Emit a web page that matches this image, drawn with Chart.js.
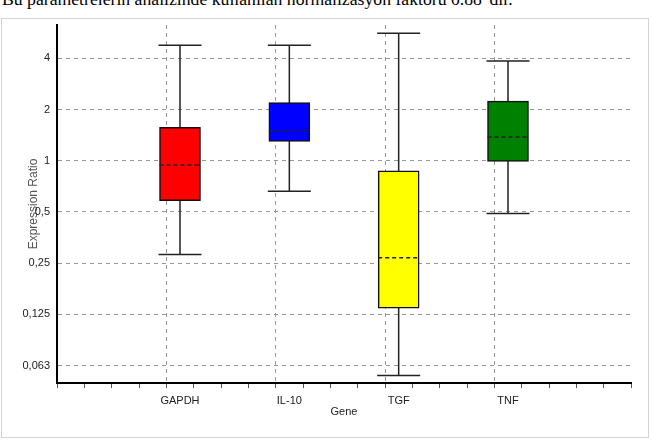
<!DOCTYPE html>
<html>
<head>
<meta charset="utf-8">
<script src="https://cdn.jsdelivr.net/npm/chart.js@4"></script>
<style>
  body { margin: 0; background: #fff; }
  #wrap { position: relative; width: 652px; height: 440px; overflow: hidden; }
  #note { position: absolute; left: 2px; top: -11px; font: 17.7px "Liberation Serif", serif; color: #000; white-space: nowrap; }
  #frame { position: absolute; left: 1px; top: 18px; width: 646px; height: 418px; border: 1px solid #d4d4d4; }
  canvas { position: absolute; left: 0; top: 0; }
</style>
</head>
<body>
<div id="wrap">
  <div id="note">Bu parametrelerin analizinde kullanılan normalizasyon faktörü 0.88 'dir.</div>
  <div id="frame"></div>
  <canvas id="chart" width="652" height="440"></canvas>
</div>
<script>
// values
const genes = ['GAPDH', 'IL-10', 'TGF', 'TNF'];
const whiskerMin = [0.281, 0.663, 0.0546, 0.49];
const boxLow = [0.582, 1.30, 0.136, 0.99];
const medians = [0.943, 1.50, 0.269, 1.38];
const boxHigh = [1.57, 2.20, 0.873, 2.24];
const whiskerMax = [4.77, 4.77, 5.61, 3.86];
const boxColors = ['#ff0000', '#0000ff', '#ffff00', '#008000'];

const yTickValues = [0.0625, 0.125, 0.25, 0.5, 1, 2, 4];
const yTickLabels = ['0,063', '0,125', '0,25', '0,5', '1', '2', '4'];
const yMin = 0.0494;
const yMax = 6.28;

Chart.defaults.font.family = '"Liberation Sans", Arial, sans-serif';
Chart.defaults.font.size = 11;
Chart.defaults.color = '#222';

function isGeneTick(v) {
    return Number.isInteger(v) && v >= 1 && v <= genes.length;
}

// whiskers + caps behind the boxes, dashed medians on top
const boxExtras = {
    id: 'boxExtras',
    beforeDatasetsDraw(chart) {
        const ctx = chart.ctx;
        const y = chart.scales.y;
        const bars = chart.getDatasetMeta(0).data;
        ctx.save();
        ctx.strokeStyle = '#222';
        ctx.lineWidth = 1.5;
        bars.forEach((bar, i) => {
            const top = y.getPixelForValue(whiskerMax[i]);
            const bot = y.getPixelForValue(whiskerMin[i]);
            const half = bar.width / 2 + 1;
            ctx.beginPath();
            ctx.moveTo(bar.x, top);
            ctx.lineTo(bar.x, bot);
            ctx.moveTo(bar.x - half, top);
            ctx.lineTo(bar.x + half, top);
            ctx.moveTo(bar.x - half, bot);
            ctx.lineTo(bar.x + half, bot);
            ctx.stroke();
        });
        ctx.restore();
    },
    afterDatasetsDraw(chart) {
        const ctx = chart.ctx;
        const y = chart.scales.y;
        const bars = chart.getDatasetMeta(0).data;
        ctx.save();
        ctx.strokeStyle = '#222';
        ctx.lineWidth = 1.5;
        ctx.setLineDash([4, 3]);
        bars.forEach((bar, i) => {
            const my = y.getPixelForValue(medians[i]);
            ctx.beginPath();
            ctx.moveTo(bar.x - bar.width / 2, my);
            ctx.lineTo(bar.x + bar.width / 2, my);
            ctx.stroke();
        });
        ctx.restore();
    }
};

new Chart(document.getElementById('chart').getContext('2d'), {
    type: 'bar',
    data: {
        datasets: [{
            data: genes.map((g, i) => ({ x: i + 1, y: [boxLow[i], boxHigh[i]] })),
            backgroundColor: boxColors,
            borderColor: '#111',
            borderWidth: 1.5,
            borderSkipped: false,
            barThickness: 41
        }]
    },
    options: {
        responsive: false,
        animation: false,
        devicePixelRatio: 1,
        layout: { padding: { left: 0, right: 21, top: 25, bottom: 0 } },
        plugins: { legend: { display: false }, tooltip: { enabled: false } },
        scales: {
            x: {
                type: 'linear',
                min: 0,
                max: 5,
                afterFit(s) { s.height = 57; },
                border: { color: '#000', width: 2, dash: [4, 4] },
                grid: {
                    color: c => (c.tick && isGeneTick(c.tick.value)) ? '#999' : 'transparent',
                    tickColor: '#555',
                    tickBorderDash: [],
                    tickLength: 5
                },
                ticks: {
                    stepSize: 0.25,
                    autoSkip: false,
                    maxRotation: 0,
                    padding: 6,
                    color: '#222',
                    callback: v => isGeneTick(v) ? genes[v - 1] : ''
                },
                title: { display: true, text: 'Gene', color: '#222', padding: { top: 0, bottom: 21 } }
            },
            y: {
                type: 'logarithmic',
                min: yMin,
                max: yMax,
                afterFit(s) { s.width = 57; },
                afterBuildTicks(s) { s.ticks = yTickValues.map(v => ({ value: v })); },
                border: { color: '#000', width: 2, dash: [4, 4] },
                grid: { color: '#999', drawTicks: false },
                ticks: {
                    padding: 7,
                    color: '#222',
                    callback: (v, i) => yTickLabels[i]
                },
                title: { display: true, text: 'Expression Ratio', color: '#555', font: { size: 12 }, padding: { top: 26, bottom: 0 } }
            }
        }
    },
    plugins: [boxExtras]
});
</script>
</body>
</html>
